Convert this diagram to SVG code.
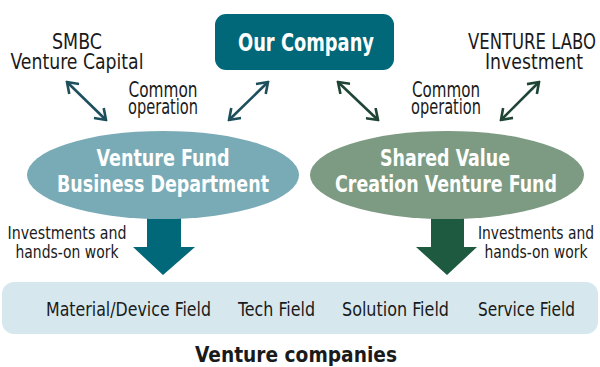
<svg xmlns="http://www.w3.org/2000/svg" width="600" height="367" viewBox="0 0 600 367">
<defs>
<style>
text{font-family:"Liberation Sans Narrow","DejaVu Sans Condensed","Liberation Sans",sans-serif;text-anchor:middle}
.lbl{font-size:21.5px;fill:#1a1a1a}
.sm{font-size:17.5px;fill:#1a1a1a}
.wb{font-size:23px;font-weight:bold;fill:#ffffff}
.fld{font-size:20px;fill:#1a1a1a}
.ta{fill:none;stroke:#1d4f5c;stroke-width:2.6}
.ga{fill:none;stroke:#1f4536;stroke-width:2.6}
</style>
<marker id="mt" viewBox="-12 -8 14 16" markerWidth="14" markerHeight="16" refX="0" refY="0" orient="auto-start-reverse" markerUnits="userSpaceOnUse">
<path d="M-10,-7 L0,0 L-10,7" fill="none" stroke="#1d4f5c" stroke-width="2.6"/>
</marker>
<marker id="mg" viewBox="-12 -8 14 16" markerWidth="14" markerHeight="16" refX="0" refY="0" orient="auto-start-reverse" markerUnits="userSpaceOnUse">
<path d="M-10,-7 L0,0 L-10,7" fill="none" stroke="#1f4536" stroke-width="2.6"/>
</marker>
</defs>
<rect width="600" height="367" fill="#ffffff"/>

<g id="connectors">
<line class="ta" x1="67" y1="82" x2="106" y2="120" marker-start="url(#mt)" marker-end="url(#mt)"/>
<line class="ta" x1="268" y1="82" x2="229" y2="120" marker-start="url(#mt)" marker-end="url(#mt)"/>
<line class="ga" x1="338" y1="82" x2="378" y2="120" marker-start="url(#mg)" marker-end="url(#mg)"/>
<line class="ga" x1="539" y1="82" x2="501" y2="120" marker-start="url(#mg)" marker-end="url(#mg)"/>
<polygon points="147,216 181,216 181,247 195,247 163,275 133,247 147,247" fill="#006878"/>
<polygon points="431,216 464,216 464,247 477,247 447,275 416,247 431,247" fill="#1e5a40"/>
</g>

<g id="our-company">
<rect x="215" y="14" width="179" height="56" rx="11" fill="#006878"/>
<text class="wb" x="306" y="51" style="font-size:25px" textLength="136" lengthAdjust="spacingAndGlyphs">Our Company</text>
</g>

<g id="smbc">
<text class="lbl" x="77" y="49" textLength="50" lengthAdjust="spacingAndGlyphs">SMBC</text>
<text class="lbl" x="77" y="69" textLength="133" lengthAdjust="spacingAndGlyphs">Venture Capital</text>
</g>

<g id="venture-labo">
<text class="lbl" x="532" y="49" textLength="128" lengthAdjust="spacingAndGlyphs">VENTURE LABO</text>
<text class="lbl" x="534" y="69" textLength="98" lengthAdjust="spacingAndGlyphs">Investment</text>
</g>

<g id="common-left">
<text class="lbl" x="163" y="97" textLength="69" lengthAdjust="spacingAndGlyphs">Common</text>
<text class="lbl" x="163" y="114" textLength="70" lengthAdjust="spacingAndGlyphs">operation</text>
</g>

<g id="common-right">
<text class="lbl" x="446" y="97" textLength="68" lengthAdjust="spacingAndGlyphs">Common</text>
<text class="lbl" x="446" y="114" textLength="70" lengthAdjust="spacingAndGlyphs">operation</text>
</g>

<g id="venture-fund">
<ellipse cx="163" cy="175" rx="136" ry="44" fill="#79abb6"/>
<text class="wb" x="163" y="166" textLength="133" lengthAdjust="spacingAndGlyphs">Venture Fund</text>
<text class="wb" x="163" y="192" textLength="212" lengthAdjust="spacingAndGlyphs">Business Department</text>
</g>

<g id="shared-value">
<ellipse cx="447" cy="175" rx="137" ry="44" fill="#7d9b82"/>
<text class="wb" x="445" y="166" textLength="130" lengthAdjust="spacingAndGlyphs">Shared Value</text>
<text class="wb" x="446" y="192" textLength="222" lengthAdjust="spacingAndGlyphs">Creation Venture Fund</text>
</g>

<g id="invest-left">
<text class="sm" x="67" y="239" textLength="119" lengthAdjust="spacingAndGlyphs">Investments and</text>
<text class="sm" x="67" y="258" textLength="103" lengthAdjust="spacingAndGlyphs">hands-on work</text>
</g>

<g id="invest-right">
<text class="sm" x="536" y="239" textLength="116" lengthAdjust="spacingAndGlyphs">Investments and</text>
<text class="sm" x="536" y="258" textLength="103" lengthAdjust="spacingAndGlyphs">hands-on work</text>
</g>

<g id="venture-companies">
<rect x="2" y="282" width="596" height="52" rx="12" fill="#d6e8ee"/>
<text class="fld" x="128.5" y="316" textLength="165" lengthAdjust="spacingAndGlyphs">Material/Device Field</text>
<text class="fld" x="276.5" y="316" textLength="77" lengthAdjust="spacingAndGlyphs">Tech Field</text>
<text class="fld" x="395.5" y="316" textLength="107" lengthAdjust="spacingAndGlyphs">Solution Field</text>
<text class="fld" x="526.5" y="316" textLength="97" lengthAdjust="spacingAndGlyphs">Service Field</text>
<text x="296" y="362" style="font-size:22px;font-weight:bold;fill:#1a1a1a" textLength="202" lengthAdjust="spacingAndGlyphs">Venture companies</text>
</g>
</svg>
